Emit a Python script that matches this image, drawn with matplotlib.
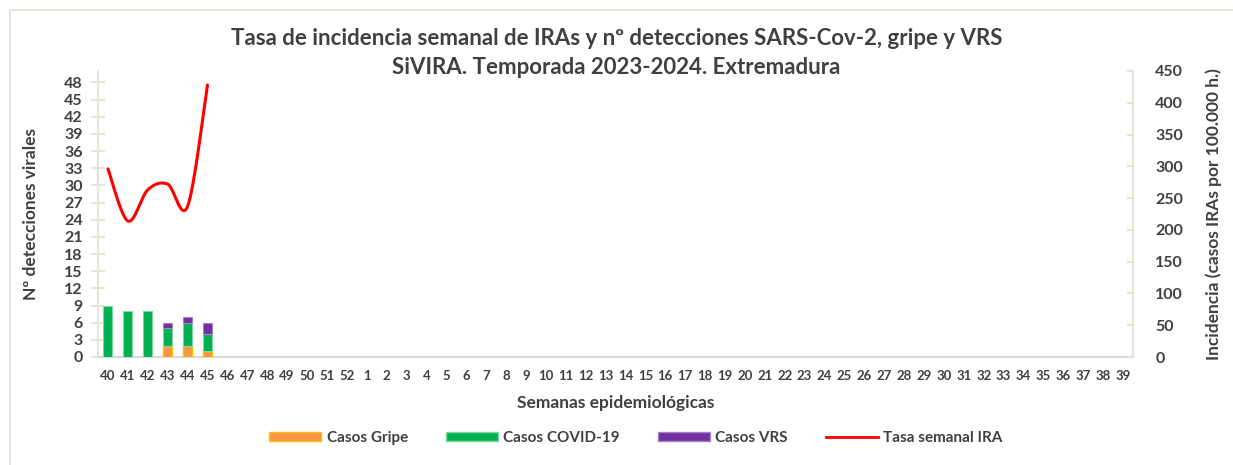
import numpy as np
import matplotlib
matplotlib.use("Agg")
import matplotlib.pyplot as plt
from matplotlib.patches import Rectangle
from matplotlib.lines import Line2D
from matplotlib.patches import Patch

plt.rcParams['font.family'] = ['Lato', 'DejaVu Sans']

weeks = [str(w) for w in list(range(40, 53)) + list(range(1, 40))]
gripe = [0, 0, 0, 2, 2, 1]
covid = [9, 8, 8, 3, 4, 3]
vrs = [0, 0, 0, 1, 1, 2]
tasa = [296, 214, 263, 272, 237, 428]

c_gripe, e_gripe = '#F79646', '#FFC000'
c_covid, e_covid = '#00B050', '#7FD8A6'
c_vrs, e_vrs = '#7030A0', '#A680C8'
axis_col = '#E8E5D8'
txt = '#404040'

fig = plt.figure(figsize=(12.33, 4.65), dpi=100)
fig.patches.append(Rectangle((10/1233, -0.1), 1.2, 1.1 - 10/465,
                             transform=fig.transFigure, fill=False,
                             edgecolor='#E3E0D3', linewidth=1.2))

ax = fig.add_axes([98/1233, 1 - 357/465, (1133 - 98)/1233, (357 - 71)/465])
n = len(gripe)
x = np.arange(n)
w = 0.45
g = np.array(gripe); c = np.array(covid); v = np.array(vrs)

def edges(vals, col):
    return [col if val > 0 else 'none' for val in vals]

ax.bar(x, g, w, color=c_gripe, edgecolor=edges(g, e_gripe), linewidth=1, zorder=3)
ax.bar(x, c, w, bottom=g, color=c_covid, edgecolor=edges(c, e_covid), linewidth=0.8, zorder=3)
ax.bar(x, v, w, bottom=g + c, color=c_vrs, edgecolor=edges(v, e_vrs), linewidth=0.8, zorder=3)

ax.set_xlim(-0.5, len(weeks) - 0.5)
ax.set_ylim(0, 50)
ax.set_yticks(np.arange(0, 49, 3))
ax.set_xticks(np.arange(len(weeks)))
ax.set_xticklabels(weeks)
for s in ['top', 'right']:
    ax.spines[s].set_visible(False)
ax.spines['left'].set_color(axis_col)
ax.spines['left'].set_linewidth(1.5)
ax.spines['bottom'].set_color('#D9D9D9')
ax.spines['bottom'].set_linewidth(1.5)
ax.tick_params(axis='y', direction='inout', length=10, width=1.5, color=axis_col,
               labelsize=11.5, labelcolor=txt, pad=6)
ax.tick_params(axis='x', length=0, labelsize=9.5, labelcolor=txt, pad=9)
for lbl in ax.get_yticklabels() + ax.get_xticklabels():
    lbl.set_fontweight('bold')
ax.set_ylabel('Nº detecciones virales', fontsize=12.5, fontweight='bold', color=txt, labelpad=18)
ax.set_xlabel('Semanas epidemiológicas', fontsize=12.5, fontweight='bold', color=txt, labelpad=10)

ax2 = ax.twinx()
ax2.set_ylim(0, 450)
ax2.set_yticks(np.arange(0, 451, 50))
for s in ['top', 'left', 'bottom']:
    ax2.spines[s].set_visible(False)
ax2.spines['right'].set_color(axis_col)
ax2.spines['right'].set_linewidth(1.5)
ax2.tick_params(axis='y', direction='in', length=4, width=1.5, color=axis_col,
                labelsize=11.5, labelcolor=txt, pad=16)
for lbl in ax2.get_yticklabels():
    lbl.set_fontweight('bold')
ax2.set_ylabel('Incidencia (casos IRAs por 100.000 h.)', fontsize=12.5, fontweight='bold',
               color=txt, labelpad=16)

# Catmull-Rom smoothing (Excel-like smoothed line)
P = np.column_stack([np.arange(len(tasa)), np.array(tasa, float)])
pts = np.vstack([P[0], P, P[-1]])
xs, ys = [], []
for i in range(1, len(pts) - 2):
    p0, p1, p2, p3 = pts[i - 1], pts[i], pts[i + 1], pts[i + 2]
    t = np.linspace(0, 1, 30)[:, None]
    seg = 0.5 * ((2 * p1) + (-p0 + p2) * t + (2 * p0 - 5 * p1 + 4 * p2 - p3) * t ** 2
                 + (-p0 + 3 * p1 - 3 * p2 + p3) * t ** 3)
    xs.extend(seg[:, 0]); ys.extend(seg[:, 1])
ax2.plot(xs, ys, color='#FF0000', linewidth=2.2, zorder=4, solid_capstyle='round')

fig.text(0.5, 1 - 38/465, 'Tasa de incidencia semanal de IRAs y nº detecciones SARS-Cov-2, gripe y VRS',
         ha='center', va='center', fontsize=16, fontweight='bold', color=txt)
fig.text(0.5, 1 - 67/465, 'SiVIRA. Temporada 2023-2024. Extremadura',
         ha='center', va='center', fontsize=16, fontweight='bold', color=txt)

handles = [Patch(facecolor=c_gripe, edgecolor=e_gripe), Patch(facecolor=c_covid, edgecolor=e_covid),
           Patch(facecolor=c_vrs, edgecolor=e_vrs), Line2D([], [], color='#FF0000', linewidth=2)]
labels = ['Casos Gripe', 'Casos COVID-19', 'Casos VRS', 'Tasa semanal IRA']
leg = fig.legend(handles, labels, loc='center', bbox_to_anchor=(636/1233, 1 - 438/465), ncol=4,
                 frameon=False, handlelength=3.4, handleheight=0.6, columnspacing=2.5,
                 handletextpad=0.35, prop={'size': 11, 'weight': 'bold'})
for t_ in leg.get_texts():
    t_.set_color(txt)

fig.savefig('out.png', dpi=100)
